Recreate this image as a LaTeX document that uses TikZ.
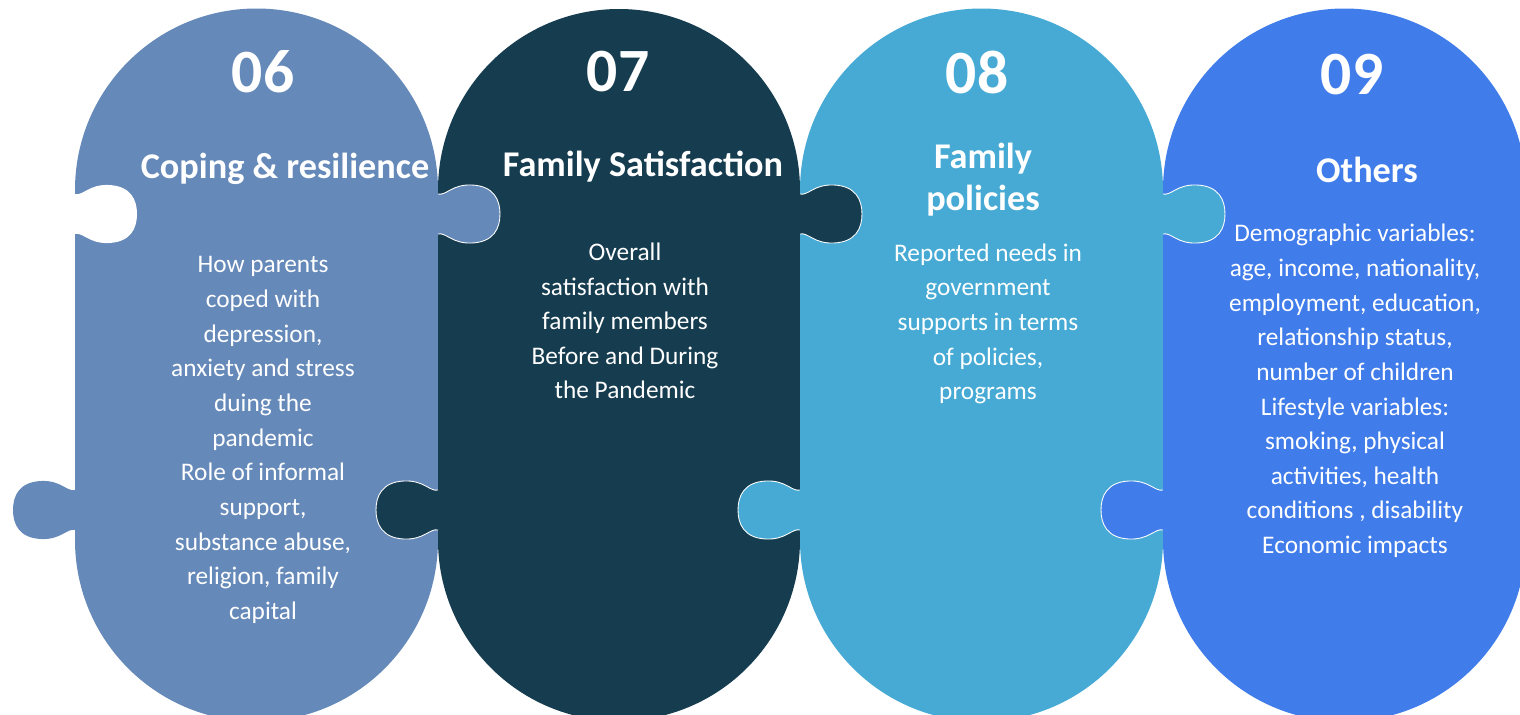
\documentclass[tikz,border=0pt]{standalone}
\usepackage{fontspec}
\setmainfont{Carlito}

\definecolor{c06}{HTML}{6589B9}
\definecolor{c07}{HTML}{163C4F}
\definecolor{c08}{HTML}{46AAD5}
\definecolor{c09}{HTML}{407CEA}

\tikzset{
    puzzletab/.pic={
        \fill[pic actions] (-2,-20) -- (0,-20) .. controls (8,-18) and (14,-30) .. (34,-29)
            .. controls (56,-28) and (62,-14) .. (62,0)
            .. controls (62,14) and (56,28) .. (34,29)
            .. controls (14,30) and (8,18) .. (0,20) -- (-2,20) -- cycle;
    },
    tabedge/.pic={
        \draw[white, line width=.25pt] (0,-20) .. controls (8,-18) and (14,-30) .. (34,-29)
            .. controls (56,-28) and (62,-14) .. (62,0)
            .. controls (62,14) and (56,28) .. (34,29)
            .. controls (14,30) and (8,18) .. (0,20);
    },
    numtext/.style={text=white, font=\bfseries\fontsize{17.5}{20}\selectfont},
    titletext/.style={text=white, font=\bfseries\fontsize{10.3}{12}\selectfont, align=center},
    bodytext/.style={text=white, font=\fontsize{7.2}{9.85}\selectfont, align=center},
}

\begin{document}
\begin{tikzpicture}[x=0.01cm, y=0.01cm]

    \useasboundingbox (0,0) rectangle (1520,714);

    % pieces
    \fill[c06] (75,524) arc[start angle=180, end angle=0, radius=181.5] -- (438,174)
        arc[start angle=0, end angle=-180, radius=181.5] -- cycle;
    \fill[c07] (438,524) arc[start angle=180, end angle=0, radius=181] -- (800,174)
        arc[start angle=0, end angle=-180, radius=181] -- cycle;
    \fill[c08] (800,524) arc[start angle=180, end angle=0, radius=181.5] -- (1163,174)
        arc[start angle=0, end angle=-180, radius=181.5] -- cycle;
    \fill[c09] (1163,524) arc[start angle=180, end angle=0, radius=181.5] -- (1526,174)
        arc[start angle=0, end angle=-180, radius=181.5] -- cycle;

    % tabs
    \pic[fill=white] at (75,500) {puzzletab};
    \pic[fill=c06, xscale=-1] at (75,204) {puzzletab};
    \pic[fill=c06] at (438,500) {puzzletab};
    \pic at (438,500) {tabedge};
    \pic[fill=c07, xscale=-1] at (438,204) {puzzletab};
    \pic[xscale=-1] at (438,204) {tabedge};
    \pic[fill=c07] at (800,500) {puzzletab};
    \pic at (800,500) {tabedge};
    \pic[fill=c08, xscale=-1] at (800,204) {puzzletab};
    \pic[xscale=-1] at (800,204) {tabedge};
    \pic[fill=c08] at (1163,500) {puzzletab};
    \pic at (1163,500) {tabedge};
    \pic[fill=c09, xscale=-1] at (1163,204) {puzzletab};
    \pic[xscale=-1] at (1163,204) {tabedge};

    % numbers
    \node[numtext] (num06) at (263,642) {06};
    \node[numtext] (num07) at (618,642) {07};
    \node[numtext] (num08) at (977,642) {08};
    \node[numtext] (num09) at (1352,639) {09};

    % titles
    \node[titletext, anchor=base] (title06) at (285,536) {Coping \& resilience};
    \node[titletext, anchor=base] (title07) at (643,538) {Family Satisfaction};
    \node[titletext] (title08) at (983,534) {Family\\policies};
    \node[titletext, anchor=base] (title09) at (1367,532) {Others};

    % texts
    \node[bodytext] (text06) at (263,274) {How parents\\coped with\\depression,\\anxiety and stress\\duing the\\pandemic\\Role of informal\\support,\\substance abuse,\\religion, family\\capital};
    \node[bodytext] (text07) at (625,393) {Overall\\satisfaction with\\family members\\Before and During\\the Pandemic};
    \node[bodytext] (text08) at (988,390) {Reported needs in\\government\\supports in terms\\of policies,\\programs};
    \node[bodytext] (text09) at (1355,323) {Demographic variables:\\age, income, nationality,\\employment, education,\\relationship status,\\number of children\\Lifestyle variables:\\smoking, physical\\activities, health\\conditions , disability\\Economic impacts};

\end{tikzpicture}
\end{document}
